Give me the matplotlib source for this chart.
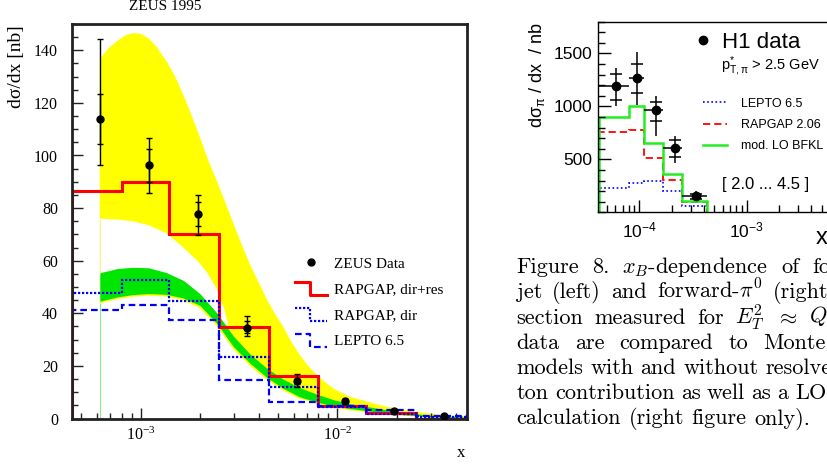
import re
import numpy as np
import matplotlib
matplotlib.use('Agg')
from matplotlib import pyplot as plt
from matplotlib.lines import Line2D
from matplotlib.legend_handler import HandlerBase
from matplotlib.ticker import (LogLocator, MultipleLocator, FixedLocator,
                               FuncFormatter, NullFormatter)

# ---------------- left: ZEUS 1995 forward jets ----------------
zeus_edges = [4.5e-4, 8e-4, 1.4e-3, 2.5e-3, 4.5e-3, 8e-3, 1.4e-2, 2.5e-2, 4.5e-2]
rapgap_dirres = [86.5, 90, 70, 34.7, 16.3, 4.9, 2.2, 0.0]
rapgap_dir = [47.8, 52.5, 44.8, 23.4, 11.9, 4.4, 1.9, 0.5]
lepto_zeus = [41.4, 43.3, 37.4, 14.8, 6.3, 4.7, 3.2, 0.9]

zeus_x = [6.2e-4, 1.1e-3, 1.95e-3, 3.48e-3, 6.24e-3, 1.1e-2, 1.95e-2, 3.49e-2]
zeus_y = [114, 96.2, 77.8, 34.5, 14.1, 6.6, 3.0, 0.9]
zeus_stat_lo = [9.7, 6.4, 4.7, 1.9, 1.0, 0.6, 0.3, 0.2]
zeus_stat_hi = [9.5, 6.4, 4.5, 2.4, 1.0, 0.6, 0.3, 0.2]
zeus_tot_lo = [17.8, 10.4, 8.1, 3.2, 2.0, 1.0, 0.5, 0.3]
zeus_tot_hi = [30.3, 10.5, 7.1, 4.4, 2.7, 1.0, 0.5, 0.3]

# BFKL bands: upper edge of the yellow band
ytop_x = [6.2e-4, 6.8e-4, 7.6e-4, 8.3e-4, 9.1e-4, 1.0e-3, 1.1e-3, 1.2e-3, 1.35e-3, 1.5e-3,
          1.65e-3, 1.8e-3, 2.0e-3, 2.2e-3, 2.45e-3, 2.7e-3, 2.95e-3, 3.25e-3, 3.6e-3, 4.0e-3,
          4.4e-3, 4.85e-3, 5.3e-3, 5.8e-3, 6.4e-3, 7.1e-3, 7.9e-3, 8.7e-3, 9.5e-3, 1.15e-2,
          1.4e-2, 1.7e-2, 2.1e-2, 2.5e-2, 3.0e-2, 3.7e-2, 4.5e-2]
ytop = [136.5, 140.5, 143.5, 145.5, 146.5, 146.3, 144.5, 141.5, 136, 130,
        123, 116, 107, 98.5, 90, 82, 74.5, 66.5, 58.5, 51.5,
        45, 39.5, 35, 29.5, 24.5, 20, 16.5, 13.7, 11.5, 8.3,
        6.5, 4.8, 3.5, 2.6, 1.8, 1.2, 0.8]
# white gap inside the yellow band, above the green band
white_x = [6.2e-4, 7.6e-4, 9.1e-4, 1.1e-3, 1.35e-3, 1.65e-3, 2.0e-3, 2.2e-3, 2.45e-3,
           2.65e-3, 2.8e-3]
white_top = [76, 75.7, 75, 73.5, 70.5, 65, 59, 55, 49, 42, 35.5]
# green band and lower yellow edge
band_x = [6.2e-4, 7.6e-4, 9.1e-4, 1.1e-3, 1.35e-3, 1.65e-3, 2.0e-3, 2.45e-3, 2.95e-3, 3.6e-3,
          4.4e-3, 5.3e-3, 6.4e-3, 7.9e-3, 9.5e-3, 1.15e-2, 1.4e-2, 2.1e-2, 3.0e-2, 4.5e-2]
yellow_lo = [43.8, 45.4, 46.3, 46.7, 46.4, 45, 42, 35, 26.5, 20,
             14.6, 10.7, 7.6, 5.6, 4.2, 3.2, 2.5, 1.1, 0.4, 0.05]
green_hi = [55.4, 57, 57.5, 57.3, 55.5, 52.5, 47.5, 40, 31.5, 24.5,
            19, 15, 11.8, 9.2, 7.2, 5.7, 4.6, 2.4, 1.2, 0.5]
green_lo = [44.6, 46.2, 47.1, 47.5, 47.2, 45.8, 43, 36, 27.5, 21,
            15.5, 11.5, 8.3, 6.2, 4.8, 3.8, 3.0, 1.5, 0.7, 0.2]

# ---------------- right: H1 forward pi0 ----------------
h1_edges = [4.2e-5, 8e-5, 1.1e-4, 1.65e-4, 2.5e-4, 4.3e-4]
h1_bfkl = [900, 1000, 657, 362, 107]
h1_rapgap = [755, 777, 516, 308, 94]
h1_lepto = [226, 274, 298, 204, 62]

h1_x = [6.06e-5, 9.46e-5, 1.42e-4, 2.15e-4, 3.38e-4]
h1_y = [1192, 1264, 970, 604, 150]
h1_tot_lo = [192, 252, 250, 134, 34]
h1_tot_hi = [168, 251, 125, 121, 54]
h1_stat_lo = [132, 142, 110, 79, 20]
h1_stat_hi = [118, 141, 70, 78, 20]

caption = [
    r"Figure 8. $x_B$-dependence of forward-",
    r"jet (left) and forward-$\pi^0$ (right) cross",
    r"section measured for $E_T^2$ $\approx$ $Q^2$. The",
    r"data are compared to Monte Carlo",
    r"models with and without resolved pho-",
    r"ton contribution as well as a LO BFKL",
    r"calculation (right figure only).",
]

W, H = 828, 465


def box(l, t, r, b):
    return [l / W, 1 - b / H, (r - l) / W, (b - t) / H]


def pow10(v, pos):
    return r'$\mathregular{10^{%d}}$' % int(round(np.log10(v)))


class StepHandler(HandlerBase):
    # legend symbol drawn as a histogram step
    def create_artists(self, legend, orig_handle, xdescent, ydescent,
                       width, height, fontsize, trans):
        x0, y0 = -xdescent, -ydescent
        xs = [x0, x0 + 0.47 * width, x0 + 0.47 * width, x0 + width]
        ys = [y0 + 1.1 * height, y0 + 1.1 * height, y0 - 0.1 * height, y0 - 0.1 * height]
        line = Line2D(xs, ys)
        self.update_prop(line, orig_handle, legend)
        line.set_transform(trans)
        return [line]


fig = plt.figure(figsize=(8.28, 4.65), dpi=100)

# ---------------- left panel ----------------
ax1 = fig.add_axes(box(72, 24, 467, 418.5))
ax1.fill(np.r_[ytop_x, band_x[::-1]], np.r_[ytop, yellow_lo[::-1]],
         color='#ffff00', lw=0, zorder=1)
n_w = sum(x <= white_x[-1] for x in band_x)
ax1.fill(np.r_[white_x, band_x[:n_w][::-1]], np.r_[white_top, green_lo[:n_w][::-1]],
         color='white', lw=0, zorder=1.1)
ax1.fill_between(band_x, green_lo, green_hi, color='#00e600', lw=0, zorder=1.2)
ax1.vlines(band_x[0], 0, yellow_lo[0], color='#8fe98f', lw=0.8, zorder=1.3)
ax1.vlines(band_x[0], green_hi[0], white_top[0], color='#f2f2a0', lw=0.8, zorder=1.3)

ax1.stairs(rapgap_dirres, zeus_edges, baseline=0, color='#ff0000', lw=2.2, zorder=2)
ax1.stairs(rapgap_dir, zeus_edges, baseline=0, color='#0000ff', lw=1.6,
           ls=(0, (1, 0.8)), zorder=2.1)
ax1.stairs(lepto_zeus, zeus_edges, baseline=0, color='#0000ff', lw=1.6,
           ls=(0, (3, 1.8)), zorder=2.2)

ax1.errorbar(zeus_x, zeus_y, yerr=[zeus_tot_lo, zeus_tot_hi], fmt='o', color='black',
             ms=5, elinewidth=1, capsize=2.5, capthick=1, zorder=4)
ax1.errorbar(zeus_x, zeus_y, yerr=[zeus_stat_lo, zeus_stat_hi], fmt='none', ecolor='black',
             elinewidth=1, capsize=2.5, capthick=1, zorder=4)

ax1.set_xscale('log')
ax1.set_xlim(4.48e-4, 4.56e-2)
ax1.set_ylim(0, 150)
ax1.yaxis.set_major_locator(MultipleLocator(20))
ax1.yaxis.set_minor_locator(MultipleLocator(5))
ax1.xaxis.set_major_locator(LogLocator(base=10, numticks=10))
ax1.xaxis.set_minor_locator(LogLocator(base=10, subs=np.arange(2, 10), numticks=20))
ax1.xaxis.set_minor_formatter(NullFormatter())
ax1.xaxis.set_major_formatter(FuncFormatter(pow10))
ax1.tick_params(which='both', direction='in', top=False, right=False,
                labelfontfamily='Liberation Serif', labelsize=11.5, color='#222222')
ax1.tick_params(which='major', length=8, width=1)
ax1.tick_params(which='minor', length=4, width=1)
ax1.tick_params(axis='y', pad=10)
ax1.tick_params(axis='x', pad=6)
for s in ax1.spines.values():
    s.set_linewidth(2)
    s.set_color('#222222')

zeus_h = Line2D([], [], marker='o', ls='none', color='black', ms=5)
red_h = Line2D([], [], color='#ff0000', lw=2.2)
dot_h = Line2D([], [], color='#0000ff', lw=1.6, ls=(0, (1, 0.8)))
dash_h = Line2D([], [], color='#0000ff', lw=1.6, ls=(0, (3, 1.8)))
ax1.legend([zeus_h, red_h, dot_h, dash_h],
           ['ZEUS Data', 'RAPGAP, dir+res', 'RAPGAP, dir', 'LEPTO 6.5'],
           handler_map={red_h: StepHandler(), dot_h: StepHandler(), dash_h: StepHandler()},
           loc='upper left', bbox_to_anchor=(295 / W, 1 - 257 / H),
           bbox_transform=fig.transFigure, frameon=False,
           prop={'family': 'Liberation Serif', 'size': 11},
           handlelength=2.1, handletextpad=0.45, labelspacing=0.8,
           borderpad=0, borderaxespad=0)

fig.text(165 / W, 1 - 7 / H, 'ZEUS 1995', ha='center', va='center',
         family='Liberation Serif', size=11)
fig.text(17 / W, 1 - 25 / H, 'dσ/dx [nb]', rotation=90, ha='center', va='top',
         family='Liberation Serif', size=14)
fig.text(461 / W, 1 - 453 / H, 'x', ha='center', va='center',
         family='Liberation Serif', size=12)

# ---------------- right panel ----------------
ax2 = fig.add_axes(box(598.3, 21.7, 833, 212.3))
ax2.stairs(h1_lepto, h1_edges, baseline=0, color='#0000ff', lw=1.2, ls=(0, (1, 1.5)))
ax2.stairs(h1_rapgap, h1_edges, baseline=0, color='#ff0000', lw=1.3, ls=(0, (4, 2.2)))
ax2.stairs(h1_bfkl, h1_edges, baseline=0, color='#22ee22', lw=1.8)

h1_xlo = np.array(h1_x) - np.array(h1_edges[:-1])
h1_xhi = np.array(h1_edges[1:]) - np.array(h1_x)
ax2.errorbar(h1_x, h1_y, xerr=[h1_xlo, h1_xhi], yerr=[h1_tot_lo, h1_tot_hi], fmt='o',
             color='black', ms=6, elinewidth=1.1, capsize=0, zorder=4)
ax2.plot(h1_x, np.array(h1_y) + np.array(h1_stat_hi), ls='none', marker='_', ms=8,
         mew=1.1, color='black', zorder=4)
ax2.plot(h1_x, np.array(h1_y) - np.array(h1_stat_lo), ls='none', marker='_', ms=8,
         mew=1.1, color='black', zorder=4)

ax2.set_xscale('log')
ax2.set_xlim(4.15e-5, 6.37e-3)
ax2.set_ylim(0, 1800)
ax2.yaxis.set_major_locator(FixedLocator([500, 1000, 1500]))
ax2.yaxis.set_minor_locator(MultipleLocator(100))
ax2.xaxis.set_major_locator(LogLocator(base=10, numticks=10))
ax2.xaxis.set_minor_locator(LogLocator(base=10, subs=np.arange(2, 10), numticks=20))
ax2.xaxis.set_minor_formatter(NullFormatter())
ax2.xaxis.set_major_formatter(FuncFormatter(pow10))
ax2.tick_params(which='both', direction='in', top=False, right=False,
                labelfontfamily='Liberation Sans', labelsize=12.5, color='black')
ax2.tick_params(which='major', length=9, width=1)
ax2.tick_params(which='minor', length=5, width=1)
ax2.tick_params(axis='y', pad=4)
ax2.tick_params(axis='x', pad=6)
for s in ax2.spines.values():
    s.set_linewidth(1)
ax2.spines['right'].set_visible(False)

h1_h = Line2D([], [], marker='o', ls='none', color='black', ms=6)
leg1 = ax2.legend([h1_h], ['H1 data'], loc='center left',
                  bbox_to_anchor=(696.6 / W, 1 - 42 / H), bbox_transform=fig.transFigure,
                  frameon=False, prop={'family': 'Liberation Sans', 'size': 16},
                  handlelength=0.6, handletextpad=0.53, borderpad=0, borderaxespad=0)
ax2.add_artist(leg1)
lepto_h = Line2D([], [], color='#0000ff', lw=1.2, ls=(0, (1, 1.5)))
rap_h = Line2D([], [], color='#ff0000', lw=1.3, ls=(0, (4, 2.2)))
bfkl_h = Line2D([], [], color='#22ee22', lw=1.8)
ax2.legend([lepto_h, rap_h, bfkl_h], ['LEPTO 6.5', 'RAPGAP 2.06', 'mod. LO BFKL'],
           loc='upper left', bbox_to_anchor=(703 / W, 1 - 97.5 / H),
           bbox_transform=fig.transFigure, frameon=False,
           prop={'family': 'Liberation Sans', 'size': 9},
           handlelength=1.9, handletextpad=1.15, labelspacing=0.75,
           borderpad=0, borderaxespad=0)

fig.text(720.7 / W, 1 - 66.7 / H, r'$\mathregular{p^{*}_{T,π}}$ > 2.5 GeV',
         ha='left', va='center', family='Liberation Sans', size=10.5)
fig.text(721.7 / W, 1 - 185 / H, '[ 2.0 ... 4.5 ]', ha='left', va='center',
         family='Liberation Sans', size=12)
fig.text(537.5 / W, 1 - 22 / H, r'd$\mathregular{σ_π}$ / dx  / nb', rotation=90,
         ha='center', va='top', family='Liberation Sans', size=13)
fig.text(821.7 / W, 1 - 238 / H, 'x', ha='center', va='center',
         family='Liberation Sans', size=17)

# ---------------- caption, justified ----------------
renderer = fig.canvas.get_renderer()
col_l, col_r = 516.7, 894
base0, step = 273.3, 25.17
for i, line in enumerate(caption):
    words = re.findall(r'(?:\$[^$]*\$|\S)+', line)
    texts = [fig.text(0, 0, w, family='cmr10', math_fontfamily='cm', size=16,
                      va='baseline') for w in words]
    widths = [t.get_window_extent(renderer).width for t in texts]
    if i < len(caption) - 1:
        gap = (col_r - col_l - sum(widths)) / (len(words) - 1)
    else:
        gap = 7.4
    x = col_l
    for t, w in zip(texts, widths):
        t.set_position((x / W, 1 - (base0 + i * step) / H))
        x += w + gap

fig.savefig('out.png', dpi=100)
